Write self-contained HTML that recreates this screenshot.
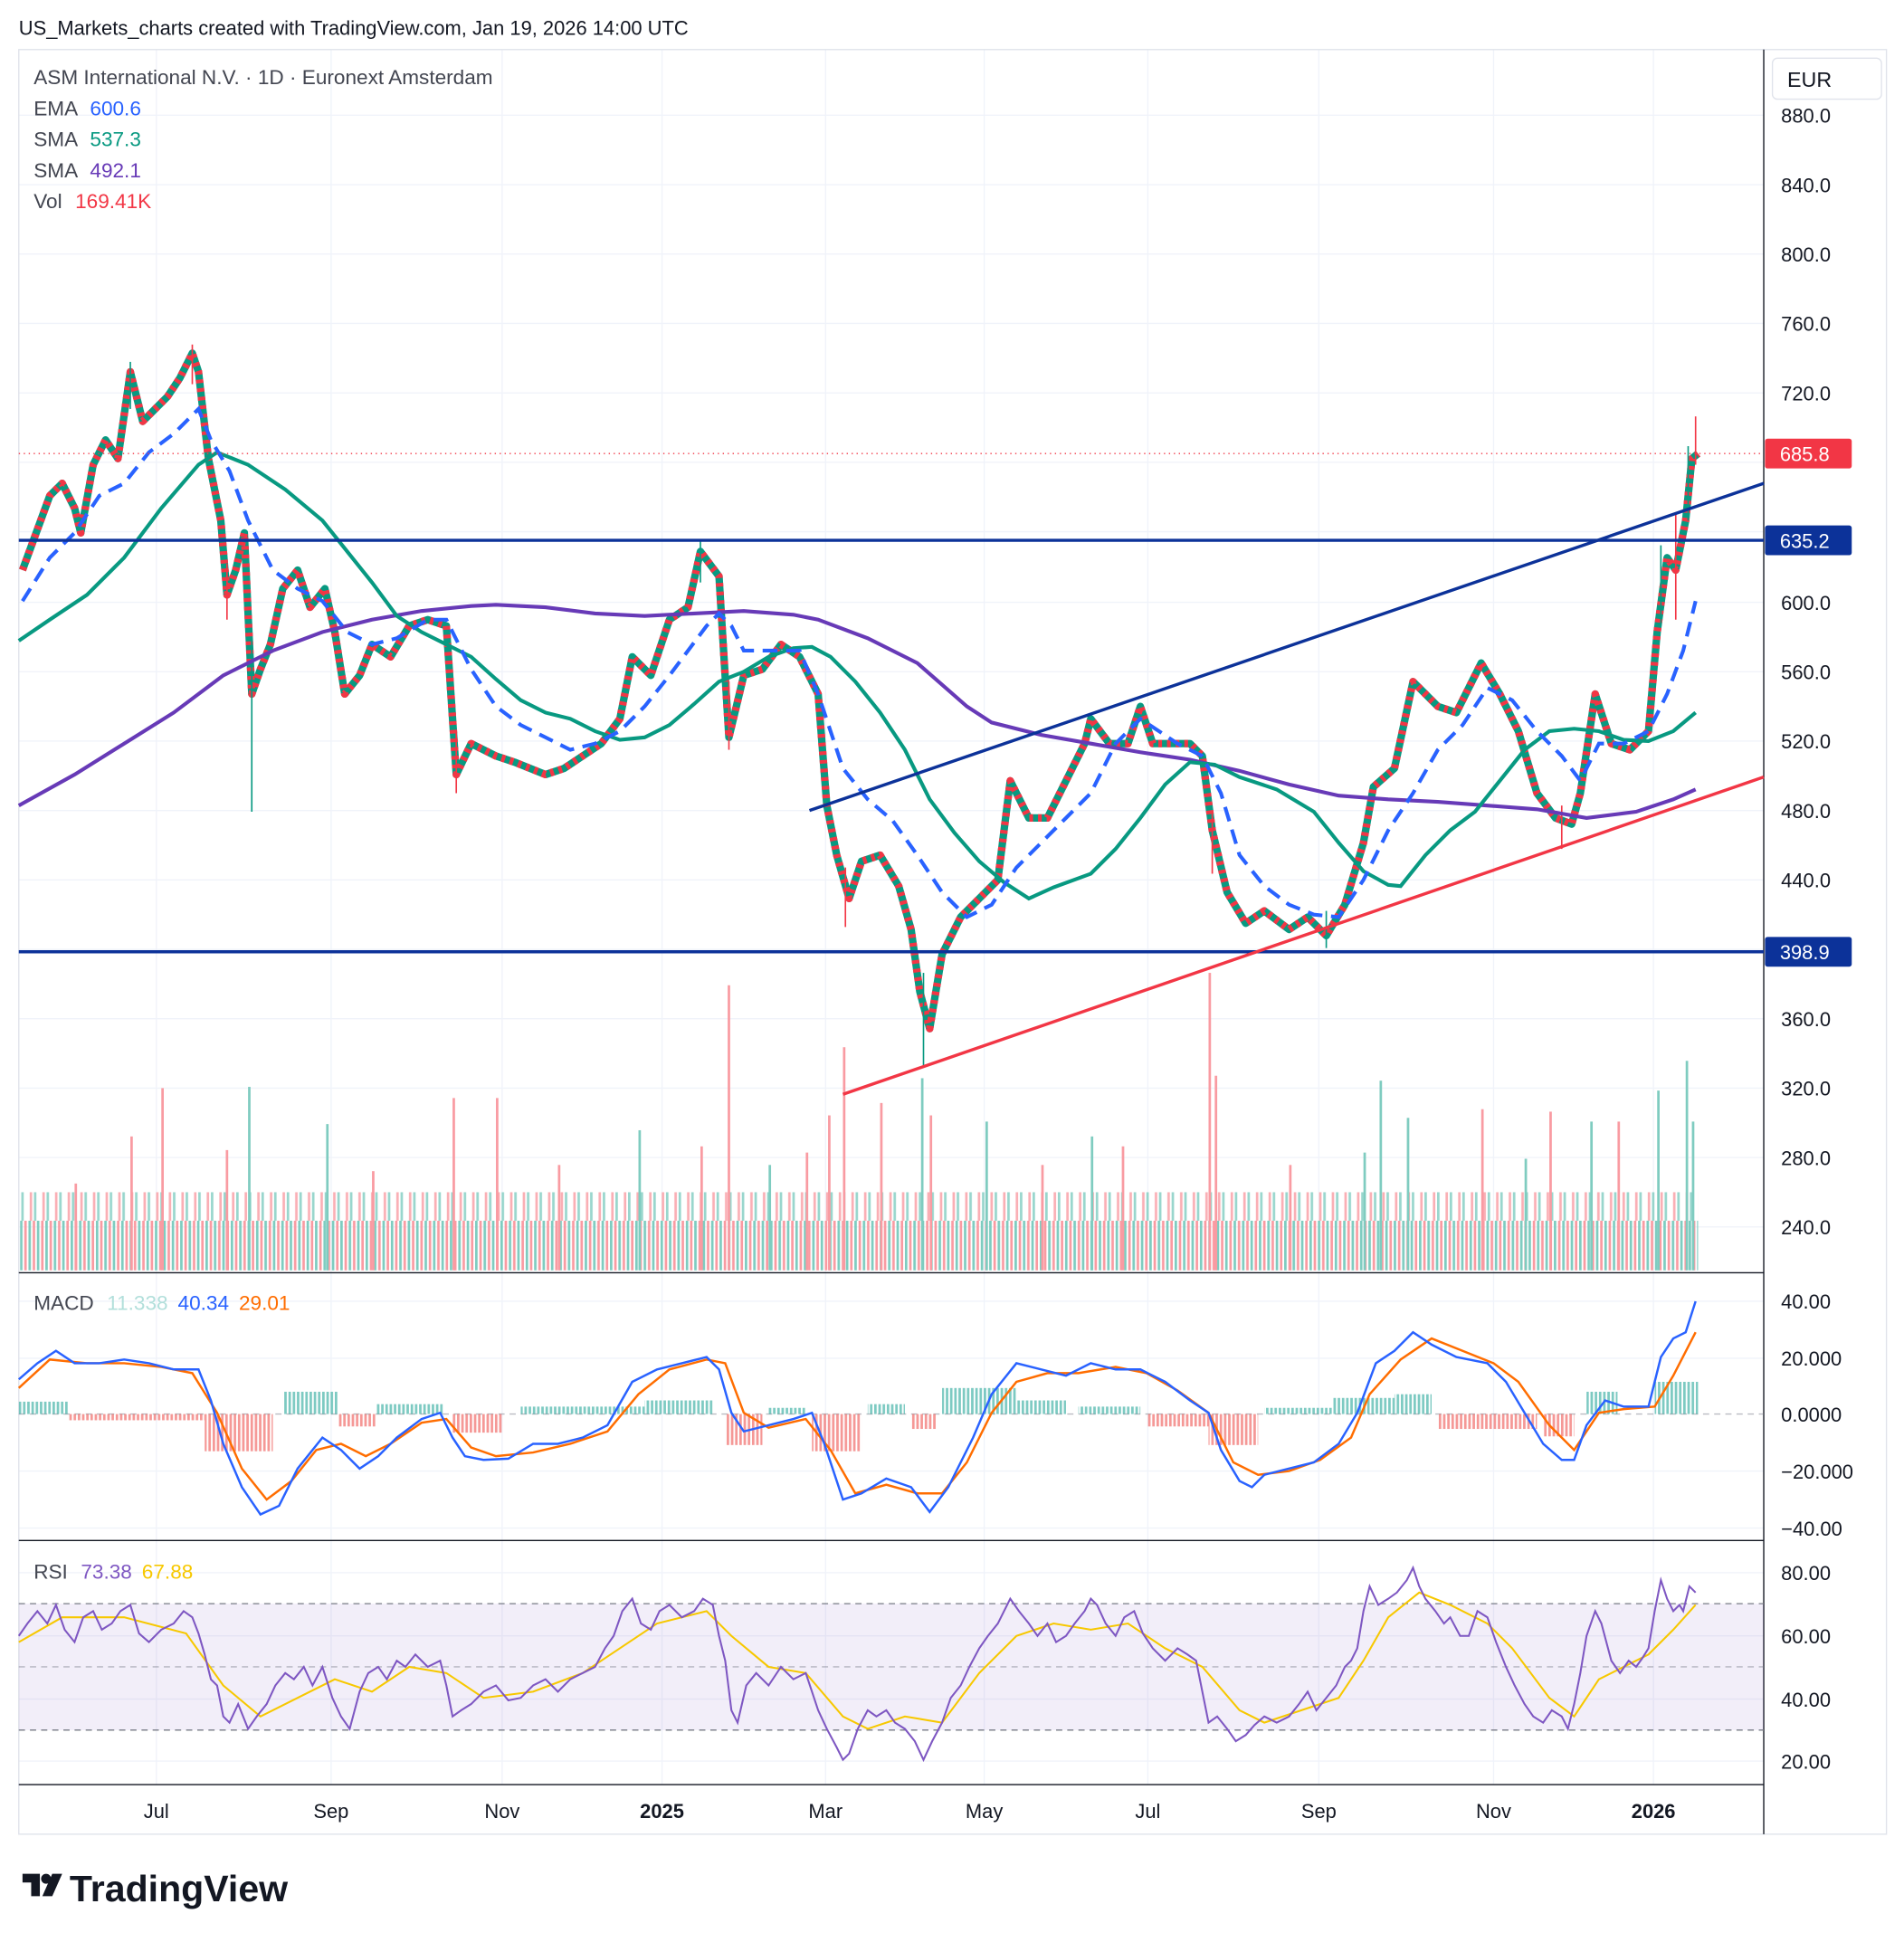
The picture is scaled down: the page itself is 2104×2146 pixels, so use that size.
<!DOCTYPE html>
<html><head><meta charset="utf-8"><style>
html,body{margin:0;padding:0;background:#fff;}
svg{display:block;font-family:"Liberation Sans",sans-serif;}
</style></head><body>
<svg width="2104" height="2146" viewBox="0 0 1536 1567" xmlns="http://www.w3.org/2000/svg">
<defs>
<pattern id="vp" x="16" y="0" width="6.8" height="10" patternUnits="userSpaceOnUse">
<rect x="0" y="0" width="2" height="10" fill="#7fccc0"/><rect x="3.4" y="0" width="2" height="10" fill="#f99ba2"/></pattern>
<pattern id="vp2" x="17" y="0" width="10.2" height="10" patternUnits="userSpaceOnUse">
<rect x="0" y="0" width="2" height="10" fill="#7fccc0"/><rect x="6.8" y="0" width="2" height="10" fill="#f99ba2"/></pattern>
<pattern id="hp" x="15" y="0" width="3.4" height="10" patternUnits="userSpaceOnUse">
<rect x="0" y="0" width="2" height="10" fill="#26a69a" opacity="0.6"/></pattern>
<pattern id="hn" x="15" y="0" width="3.4" height="10" patternUnits="userSpaceOnUse">
<rect x="0" y="0" width="2" height="10" fill="#ef5350" opacity="0.6"/></pattern>
</defs>
<rect width="1536" height="1567" fill="#fff"/>
<text x="15" y="28" font-size="16" fill="#131722">US_Markets_charts created with TradingView.com, Jan 19, 2026 14:00 UTC</text>
<g stroke="#f0f3fa" stroke-width="1">
<line x1="126" y1="40" x2="126" y2="1440"/><line x1="267" y1="40" x2="267" y2="1440"/><line x1="405" y1="40" x2="405" y2="1440"/><line x1="534" y1="40" x2="534" y2="1440"/><line x1="666" y1="40" x2="666" y2="1440"/><line x1="794" y1="40" x2="794" y2="1440"/><line x1="926" y1="40" x2="926" y2="1440"/><line x1="1064" y1="40" x2="1064" y2="1440"/><line x1="1205" y1="40" x2="1205" y2="1440"/><line x1="1334" y1="40" x2="1334" y2="1440"/>
<line x1="15" y1="93" x2="1423" y2="93"/><line x1="15" y1="149" x2="1423" y2="149"/><line x1="15" y1="205" x2="1423" y2="205"/><line x1="15" y1="261" x2="1423" y2="261"/><line x1="15" y1="317" x2="1423" y2="317"/><line x1="15" y1="373" x2="1423" y2="373"/><line x1="15" y1="429" x2="1423" y2="429"/><line x1="15" y1="486" x2="1423" y2="486"/><line x1="15" y1="542" x2="1423" y2="542"/><line x1="15" y1="598" x2="1423" y2="598"/><line x1="15" y1="654" x2="1423" y2="654"/><line x1="15" y1="710" x2="1423" y2="710"/><line x1="15" y1="766" x2="1423" y2="766"/><line x1="15" y1="822" x2="1423" y2="822"/><line x1="15" y1="878" x2="1423" y2="878"/><line x1="15" y1="934" x2="1423" y2="934"/><line x1="15" y1="990" x2="1423" y2="990"/>
<line x1="15" y1="1050" x2="1423" y2="1050"/><line x1="15" y1="1096" x2="1423" y2="1096"/><line x1="15" y1="1187" x2="1423" y2="1187"/><line x1="15" y1="1233" x2="1423" y2="1233"/>
<line x1="15" y1="1269" x2="1423" y2="1269"/><line x1="15" y1="1320" x2="1423" y2="1320"/><line x1="15" y1="1371" x2="1423" y2="1371"/><line x1="15" y1="1421" x2="1423" y2="1421"/>
</g>
<rect x="15" y="40" width="1507" height="1440" fill="none" stroke="#e0e3eb"/>
<line x1="1423" y1="40" x2="1423" y2="1480" stroke="#131722"/>
<line x1="15" y1="1027" x2="1423" y2="1027" stroke="#131722"/>
<line x1="15" y1="1243" x2="1423" y2="1243" stroke="#131722"/>
<line x1="15" y1="1440" x2="1423" y2="1440" stroke="#131722"/>
<!-- volume -->
<rect x="16" y="985" width="1354" height="40" fill="url(#vp)"/>
<rect x="16" y="962" width="1354" height="23" fill="url(#vp2)" opacity="0.8"/>
<g fill="#f99ba2">
<rect x="130" y="878" width="2" height="147"/><rect x="182" y="928" width="2" height="97"/><rect x="200" y="877" width="2" height="148" fill="#7fccc0"/><rect x="365" y="886" width="2" height="139"/><rect x="400" y="886" width="2" height="139"/><rect x="587" y="795" width="2" height="230"/><rect x="565" y="925" width="2" height="100"/><rect x="668" y="900" width="2" height="125"/><rect x="680" y="845" width="2" height="180"/><rect x="710" y="890" width="2" height="135"/><rect x="743" y="870" width="2" height="155" fill="#7fccc0"/><rect x="750" y="900" width="2" height="125"/><rect x="975" y="785" width="2" height="240"/><rect x="980" y="868" width="2" height="157"/><rect x="1113" y="872" width="2" height="153" fill="#7fccc0"/><rect x="1135" y="902" width="2" height="123" fill="#7fccc0"/><rect x="1195" y="895" width="2" height="130"/><rect x="1250" y="897" width="2" height="128"/><rect x="1283" y="905" width="2" height="120" fill="#7fccc0"/><rect x="1305" y="905" width="2" height="120"/><rect x="1337" y="880" width="2" height="145" fill="#7fccc0"/><rect x="1360" y="856" width="2" height="169" fill="#7fccc0"/><rect x="1365" y="905" width="2" height="120" fill="#7fccc0"/><rect x="263" y="907" width="2" height="118" fill="#7fccc0"/><rect x="515" y="912" width="2" height="113" fill="#7fccc0"/><rect x="795" y="905" width="2" height="120" fill="#7fccc0"/><rect x="880" y="917" width="2" height="108" fill="#7fccc0"/><rect x="905" y="925" width="2" height="100"/><rect x="105" y="917" width="2" height="108"/><rect x="60" y="955" width="2" height="70"/><rect x="300" y="945" width="2" height="80"/><rect x="450" y="940" width="2" height="85"/><rect x="620" y="940" width="2" height="85" fill="#7fccc0"/><rect x="650" y="930" width="2" height="95"/><rect x="840" y="940" width="2" height="85"/><rect x="1040" y="940" width="2" height="85"/><rect x="1100" y="930" width="2" height="95" fill="#7fccc0"/><rect x="1230" y="935" width="2" height="90" fill="#7fccc0"/>
</g>
<!-- price -->
<polyline fill="none" stroke="#089981" stroke-width="6" stroke-linejoin="round" points="18,460 40,400 50,390 60,410 65,430 75,375 85,355 95,370 105,300 115,340 125,330 135,320 145,305 155,285 160,300 168,370 178,420 183,480 190,460 197,430 203,560 210,540 218,520 228,475 240,460 250,490 262,475 270,510 278,560 290,545 300,520 315,530 330,505 345,500 360,505 368,625 380,600 400,610 415,615 440,625 455,620 470,610 485,600 500,580 510,530 525,545 540,500 555,490 565,445 580,465 588,595 600,545 615,540 630,520 645,530 660,560 667,650 675,690 685,725 695,695 710,690 725,715 735,750 742,800 750,830 760,770 775,740 790,725 805,710 815,630 830,660 845,660 860,630 875,600 880,580 895,600 910,600 920,570 930,600 945,600 960,600 970,610 978,670 990,720 1005,745 1020,735 1040,750 1055,740 1070,755 1085,730 1100,680 1108,635 1125,620 1140,550 1160,570 1175,575 1195,535 1210,560 1225,590 1240,640 1255,660 1268,665 1275,640 1287,560 1300,600 1315,605 1330,590 1337,510 1345,450 1352,460 1360,420 1365,370 1370,366"/>
<polyline fill="none" stroke="#f23645" stroke-width="6" stroke-dasharray="3,4" stroke-linejoin="round" points="18,460 40,400 50,390 60,410 65,430 75,375 85,355 95,370 105,300 115,340 125,330 135,320 145,305 155,285 160,300 168,370 178,420 183,480 190,460 197,430 203,560 210,540 218,520 228,475 240,460 250,490 262,475 270,510 278,560 290,545 300,520 315,530 330,505 345,500 360,505 368,625 380,600 400,610 415,615 440,625 455,620 470,610 485,600 500,580 510,530 525,545 540,500 555,490 565,445 580,465 588,595 600,545 615,540 630,520 645,530 660,560 667,650 675,690 685,725 695,695 710,690 725,715 735,750 742,800 750,830 760,770 775,740 790,725 805,710 815,630 830,660 845,660 860,630 875,600 880,580 895,600 910,600 920,570 930,600 945,600 960,600 970,610 978,670 990,720 1005,745 1020,735 1040,750 1055,740 1070,755 1085,730 1100,680 1108,635 1125,620 1140,550 1160,570 1175,575 1195,535 1210,560 1225,590 1240,640 1255,660 1268,665 1275,640 1287,560 1300,600 1315,605 1330,590 1337,510 1345,450 1352,460 1360,420 1365,370 1370,366"/>
<g stroke-width="1.2">
<line x1="155" y1="278" x2="155" y2="310" stroke="#f23645"/><line x1="105" y1="292" x2="105" y2="330" stroke="#089981"/><line x1="203" y1="515" x2="203" y2="655" stroke="#089981"/><line x1="183" y1="455" x2="183" y2="500" stroke="#f23645"/><line x1="368" y1="590" x2="368" y2="640" stroke="#f23645"/><line x1="565" y1="435" x2="565" y2="470" stroke="#089981"/><line x1="588" y1="550" x2="588" y2="605" stroke="#f23645"/><line x1="682" y1="700" x2="682" y2="748" stroke="#f23645"/><line x1="745" y1="785" x2="745" y2="860" stroke="#089981"/><line x1="978" y1="655" x2="978" y2="705" stroke="#f23645"/><line x1="1070" y1="735" x2="1070" y2="765" stroke="#089981"/><line x1="1260" y1="650" x2="1260" y2="685" stroke="#f23645"/><line x1="1340" y1="440" x2="1340" y2="505" stroke="#089981"/><line x1="1352" y1="415" x2="1352" y2="500" stroke="#f23645"/><line x1="1362" y1="360" x2="1362" y2="420" stroke="#089981"/><line x1="1368" y1="336" x2="1368" y2="375" stroke="#f23645"/>
</g>
<!-- MAs -->
<polyline fill="none" stroke="#673ab7" stroke-width="3" points="15,650 60,625 100,600 140,575 180,545 220,525 260,510 300,500 340,493 380,489 400,488 440,490 480,495 520,497 560,495 600,493 640,496 660,500 700,515 740,535 780,570 800,583 840,593 880,600 920,607 960,613 1000,622 1040,633 1080,642 1120,645 1160,647 1200,650 1240,653 1280,660 1320,655 1350,645 1368,637"/>
<polyline fill="none" stroke="#089981" stroke-width="3" points="15,517 40,500 70,480 100,450 130,410 160,375 175,365 200,375 230,395 260,420 280,445 300,470 320,497 340,510 360,520 380,530 400,548 420,565 440,575 460,580 480,590 500,597 520,595 540,585 560,568 580,550 600,542 620,530 640,523 655,522 670,530 690,550 710,575 730,605 750,645 770,672 790,695 810,712 830,725 850,716 880,705 900,685 920,660 940,633 960,615 980,617 1000,627 1030,637 1060,655 1080,680 1100,703 1120,714 1130,715 1150,690 1170,670 1190,655 1210,630 1230,605 1250,590 1270,588 1290,590 1310,597 1330,598 1350,590 1368,575"/>
<polyline fill="none" stroke="#2962ff" stroke-width="3" stroke-dasharray="12,7" points="18,485 40,450 60,430 80,400 100,390 120,365 140,350 160,330 170,355 185,380 200,420 220,460 240,475 260,485 280,510 300,520 320,515 345,500 360,500 380,540 400,570 420,585 440,595 460,605 480,600 500,590 520,570 540,545 555,525 570,505 580,495 590,505 600,525 620,525 645,525 660,560 680,620 700,645 720,662 740,690 760,720 780,740 800,730 820,700 840,680 860,660 880,640 900,600 920,580 950,600 970,610 985,640 1000,690 1020,715 1040,730 1060,738 1080,740 1100,710 1120,670 1140,640 1160,605 1180,585 1200,555 1220,565 1240,590 1260,610 1275,630 1290,600 1310,600 1330,590 1345,560 1358,525 1368,485"/>
<line x1="15" y1="436" x2="1423" y2="436" stroke="#0c3299" stroke-width="2.5"/>
<line x1="15" y1="768" x2="1423" y2="768" stroke="#0c3299" stroke-width="2.5"/>
<line x1="653" y1="654" x2="1423" y2="390" stroke="#0c3299" stroke-width="2.5"/>
<line x1="680" y1="883" x2="1423" y2="627" stroke="#f23645" stroke-width="2.5"/>
<line x1="15" y1="366" x2="1423" y2="366" stroke="#f23645" stroke-dasharray="1,3"/>
<!-- MACD -->
<line x1="15" y1="1141" x2="1423" y2="1141" stroke="#787b86" stroke-dasharray="5,4" opacity="0.5"/>
<g>
<rect x="15" y="1131" width="40" height="10" fill="url(#hp)"/><rect x="55" y="1141" width="110" height="5" fill="url(#hn)"/><rect x="165" y="1141" width="55" height="30" fill="url(#hn)"/><rect x="228" y="1123" width="45" height="18" fill="url(#hp)"/><rect x="273" y="1141" width="30" height="10" fill="url(#hn)"/><rect x="303" y="1133" width="55" height="8" fill="url(#hp)"/><rect x="365" y="1141" width="40" height="15" fill="url(#hn)"/><rect x="420" y="1135" width="100" height="6" fill="url(#hp)"/><rect x="520" y="1130" width="55" height="11" fill="url(#hp)"/><rect x="585" y="1141" width="30" height="25" fill="url(#hn)"/><rect x="620" y="1136" width="30" height="5" fill="url(#hp)"/><rect x="655" y="1141" width="40" height="30" fill="url(#hn)"/><rect x="700" y="1133" width="30" height="8" fill="url(#hp)"/><rect x="735" y="1141" width="20" height="12" fill="url(#hn)"/><rect x="760" y="1120" width="60" height="21" fill="url(#hp)"/><rect x="820" y="1130" width="40" height="11" fill="url(#hp)"/><rect x="870" y="1135" width="50" height="6" fill="url(#hp)"/><rect x="925" y="1141" width="50" height="10" fill="url(#hn)"/><rect x="975" y="1141" width="40" height="25" fill="url(#hn)"/><rect x="1020" y="1136" width="55" height="5" fill="url(#hp)"/><rect x="1075" y="1128" width="50" height="13" fill="url(#hp)"/><rect x="1125" y="1125" width="30" height="16" fill="url(#hp)"/><rect x="1160" y="1141" width="80" height="12" fill="url(#hn)"/><rect x="1245" y="1141" width="25" height="18" fill="url(#hn)"/><rect x="1280" y="1123" width="25" height="18" fill="url(#hp)"/><rect x="1335" y="1115" width="35" height="26" fill="url(#hp)"/>
</g>
<polyline fill="none" stroke="#ff6d00" stroke-width="1.8" points="15,1120 40,1097 70,1100 100,1100 130,1103 155,1108 175,1140 195,1185 215,1210 235,1195 255,1170 275,1165 295,1175 315,1165 340,1148 360,1145 380,1168 400,1175 430,1172 460,1165 490,1155 515,1125 540,1105 570,1097 585,1100 600,1140 620,1152 650,1145 670,1170 690,1205 715,1198 740,1205 760,1205 780,1180 800,1140 820,1115 845,1108 870,1108 900,1103 925,1108 950,1122 975,1140 995,1180 1015,1190 1040,1187 1065,1178 1090,1160 1105,1125 1130,1097 1155,1080 1180,1090 1205,1100 1225,1115 1250,1150 1270,1170 1290,1140 1310,1137 1335,1135 1350,1110 1368,1075"/>
<polyline fill="none" stroke="#2962ff" stroke-width="1.8" points="15,1113 30,1100 45,1090 60,1100 80,1100 100,1097 120,1100 140,1105 160,1105 170,1130 180,1165 195,1200 210,1222 225,1215 240,1185 260,1160 275,1170 290,1185 305,1175 320,1160 340,1145 355,1140 365,1160 375,1175 390,1178 410,1177 430,1165 450,1165 470,1160 490,1150 510,1115 530,1105 550,1100 570,1095 580,1105 590,1140 600,1155 620,1150 640,1145 655,1140 665,1165 680,1210 695,1205 715,1193 735,1200 750,1220 765,1200 785,1160 800,1125 820,1100 840,1105 860,1110 880,1100 900,1105 920,1105 940,1115 960,1130 975,1140 985,1170 1000,1195 1010,1200 1020,1190 1040,1185 1060,1180 1080,1165 1095,1140 1110,1100 1125,1090 1140,1075 1155,1085 1175,1095 1200,1100 1215,1115 1230,1140 1245,1165 1260,1178 1270,1178 1280,1150 1295,1130 1310,1135 1330,1135 1340,1095 1350,1080 1360,1075 1368,1050"/>
<!-- RSI -->
<rect x="15" y="1294" width="1408" height="102" fill="#7e57c2" opacity="0.1"/>
<g stroke="#787b86" stroke-dasharray="5,4">
<line x1="15" y1="1294" x2="1423" y2="1294"/><line x1="15" y1="1345" x2="1423" y2="1345" opacity="0.5"/><line x1="15" y1="1396" x2="1423" y2="1396"/></g>
<polyline fill="none" stroke="#f7c800" stroke-width="1.5" points="15,1325 50,1305 100,1305 150,1318 180,1360 210,1385 240,1370 270,1355 300,1365 330,1345 360,1350 390,1370 430,1365 470,1350 500,1330 530,1310 570,1300 590,1320 620,1345 650,1350 680,1385 700,1395 730,1385 760,1390 790,1350 820,1320 850,1310 880,1315 910,1310 940,1330 970,1345 1000,1380 1020,1390 1050,1380 1080,1370 1100,1340 1120,1305 1145,1285 1170,1295 1200,1310 1220,1330 1250,1370 1270,1385 1290,1355 1310,1345 1330,1335 1350,1315 1368,1295"/>
<polyline fill="none" stroke="#7e57c2" stroke-width="1.5" points="15,1320 22,1310 30,1300 38,1310 45,1295 52,1315 60,1325 67,1305 75,1300 82,1315 90,1310 97,1300 105,1295 112,1318 120,1325 130,1315 140,1310 148,1300 155,1305 160,1318 165,1335 170,1355 175,1360 180,1385 185,1390 192,1375 200,1395 207,1385 215,1375 222,1360 230,1350 237,1355 245,1345 252,1360 260,1345 268,1370 275,1385 282,1395 290,1365 297,1350 305,1345 312,1355 320,1340 327,1345 335,1335 345,1345 355,1340 360,1360 365,1385 372,1380 380,1375 390,1365 400,1360 410,1372 420,1370 430,1360 440,1355 450,1365 460,1355 470,1350 480,1345 488,1330 495,1320 502,1300 510,1290 517,1310 525,1315 532,1300 540,1295 550,1305 560,1300 567,1290 575,1295 580,1320 585,1340 590,1380 595,1390 602,1360 610,1350 620,1360 630,1345 640,1355 650,1350 655,1365 660,1380 667,1395 675,1410 680,1420 685,1415 692,1395 700,1380 707,1385 715,1380 722,1390 730,1395 738,1405 745,1420 752,1405 760,1390 767,1370 775,1360 782,1345 790,1330 797,1320 805,1310 810,1300 815,1290 822,1300 830,1310 837,1320 845,1310 852,1325 860,1320 867,1310 875,1300 880,1290 885,1295 892,1310 900,1320 907,1305 915,1300 922,1318 930,1330 940,1340 950,1330 958,1335 965,1340 970,1365 975,1390 982,1385 990,1395 997,1405 1005,1400 1012,1392 1020,1385 1030,1390 1040,1385 1048,1375 1055,1365 1062,1380 1070,1370 1078,1360 1085,1345 1090,1340 1095,1330 1100,1300 1105,1280 1112,1295 1120,1290 1127,1285 1135,1275 1140,1265 1145,1280 1150,1290 1158,1300 1165,1310 1170,1305 1178,1320 1185,1320 1192,1300 1200,1305 1207,1325 1215,1345 1222,1360 1230,1375 1237,1385 1245,1390 1252,1380 1260,1385 1265,1395 1270,1375 1275,1350 1280,1320 1287,1300 1292,1310 1300,1340 1307,1350 1314,1340 1320,1345 1325,1338 1330,1330 1335,1300 1340,1275 1345,1290 1350,1300 1355,1295 1358,1300 1363,1280 1368,1285"/>
<!-- axis labels -->
<g font-size="16" fill="#131722">
<text x="1437" y="99">880.0</text><text x="1437" y="155">840.0</text><text x="1437" y="211">800.0</text><text x="1437" y="267">760.0</text><text x="1437" y="323">720.0</text><text x="1437" y="492">600.0</text><text x="1437" y="548">560.0</text><text x="1437" y="604">520.0</text><text x="1437" y="660">480.0</text><text x="1437" y="716">440.0</text><text x="1437" y="828">360.0</text><text x="1437" y="884">320.0</text><text x="1437" y="940">280.0</text><text x="1437" y="996">240.0</text>
<text x="1437" y="1056">40.00</text><text x="1437" y="1102">20.000</text><text x="1437" y="1147">0.0000</text><text x="1437" y="1193">−20.000</text><text x="1437" y="1239">−40.00</text>
<text x="1437" y="1275">80.00</text><text x="1437" y="1326">60.00</text><text x="1437" y="1377">40.00</text><text x="1437" y="1427">20.00</text>
<g text-anchor="middle"><text x="126" y="1467">Jul</text><text x="267" y="1467">Sep</text><text x="405" y="1467">Nov</text><text x="534" y="1467" font-weight="bold">2025</text><text x="666" y="1467">Mar</text><text x="794" y="1467">May</text><text x="926" y="1467">Jul</text><text x="1064" y="1467">Sep</text><text x="1205" y="1467">Nov</text><text x="1334" y="1467" font-weight="bold">2026</text></g>
</g>
<rect x="1430" y="47" width="88" height="33" rx="4" fill="#fff" stroke="#e0e3eb"/>
<text x="1442" y="70" font-size="17" fill="#131722">EUR</text>
<rect x="1424" y="354" width="70" height="24" rx="2" fill="#f23645"/><text x="1436" y="372" font-size="16" fill="#fff">685.8</text>
<rect x="1424" y="424" width="70" height="24" rx="2" fill="#0c3299"/><text x="1436" y="442" font-size="16" fill="#fff">635.2</text>
<rect x="1424" y="756" width="70" height="24" rx="2" fill="#0c3299"/><text x="1436" y="774" font-size="16" fill="#fff">398.9</text>
<g font-size="16.5">
<text x="27" y="68" fill="#434651">ASM International N.V. · 1D · Euronext Amsterdam</text>
<text x="27" y="93" fill="#434651">EMA <tspan fill="#2962ff" dx="6">600.6</tspan></text>
<text x="27" y="118" fill="#434651">SMA <tspan fill="#089981" dx="6">537.3</tspan></text>
<text x="27" y="143" fill="#434651">SMA <tspan fill="#673ab7" dx="6">492.1</tspan></text>
<text x="27" y="168" fill="#434651">Vol <tspan fill="#f23645" dx="6">169.41K</tspan></text>
<text x="27" y="1057" fill="#434651">MACD <tspan fill="#b2dfdb" dx="6">11.338</tspan><tspan fill="#2962ff" dx="8">40.34</tspan><tspan fill="#ff6d00" dx="8">29.01</tspan></text>
<text x="27" y="1274" fill="#434651">RSI <tspan fill="#7e57c2" dx="6">73.38</tspan><tspan fill="#f7c800" dx="8">67.88</tspan></text>
</g>
<g transform="translate(18,1510)">
<path d="M0 2h14v18h-7v-11h-7z" fill="#131722"/><circle cx="19" cy="6" r="4" fill="#131722"/><path d="M24 2h8l-8 18h-8z" fill="#131722"/>
<text x="38" y="24" font-size="30" font-weight="bold" fill="#131722">TradingView</text></g>
</svg>
</body></html>
